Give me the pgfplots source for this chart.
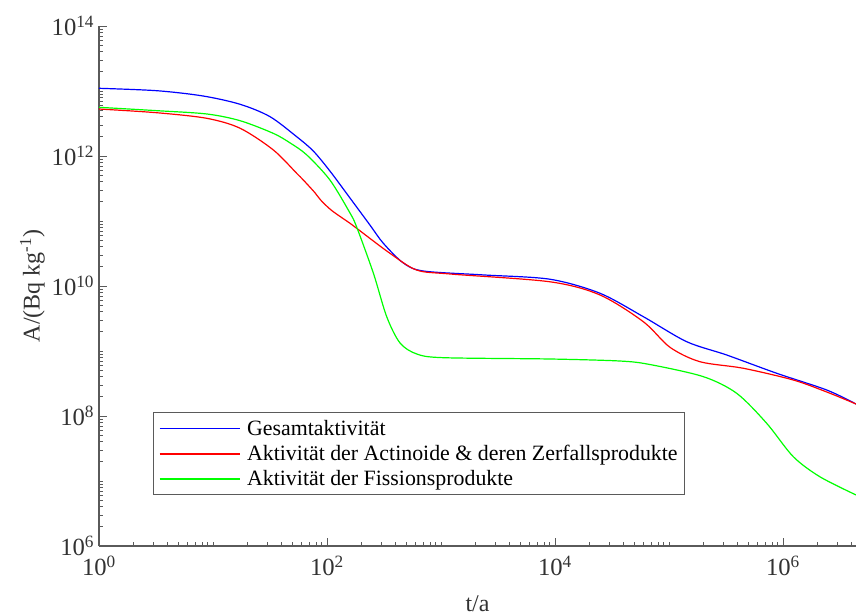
\documentclass[border=0pt]{standalone}
\usepackage{fontspec}
\setmainfont{Liberation Serif}
\usepackage{pgfplots}
\pgfplotsset{compat=1.18}
\definecolor{axgray}{RGB}{90,90,90}
\definecolor{txtgray}{RGB}{50,50,50}
\definecolor{cblue}{RGB}{0,0,255}
\definecolor{cred}{RGB}{255,0,0}
\definecolor{cgreen}{RGB}{0,255,0}
\begin{document}
\begin{tikzpicture}
\begin{loglogaxis}[
  name=ax,
  scale only axis,
  width=567.75pt, height=390pt,
  xmin=1, xmax=4.37e6, ymin=1e6, ymax=1e14,
  axis x line*=bottom, axis y line*=left,
  axis line style={-, draw=axgray, line width=0.8pt},
  tick align=inside,
  major tick length=6pt, minor tick length=3pt,
  tick style={draw=axgray, line width=0.6pt},
  xtick={1,100,10000,1000000},
  xticklabels={10\textsuperscript{0},10\textsuperscript{2},10\textsuperscript{4},10\textsuperscript{6}},
  ytick={1e6,1e8,1e10,1e12,1e14},
  yticklabels={10\textsuperscript{6},10\textsuperscript{8},10\textsuperscript{10},10\textsuperscript{12},10\textsuperscript{14}},
  minor xtick={2,3,4,5,6,7,8,9,10,20,30,40,50,60,70,80,90,200,300,400,500,600,700,800,900,1000,2000,3000,4000,5000,6000,7000,8000,9000,20000,30000,40000,50000,60000,70000,80000,90000,100000,200000,300000,400000,500000,600000,700000,800000,900000,2000000,3000000,4000000},
  minor ytick={2e6,3e6,4e6,5e6,6e6,7e6,8e6,9e6,1e7,2e7,3e7,4e7,5e7,6e7,7e7,8e7,9e7,2e8,3e8,4e8,5e8,6e8,7e8,8e8,9e8,1e9,2e9,3e9,4e9,5e9,6e9,7e9,8e9,9e9,2e10,3e10,4e10,5e10,6e10,7e10,8e10,9e10,1e11,2e11,3e11,4e11,5e11,6e11,7e11,8e11,9e11,2e12,3e12,4e12,5e12,6e12,7e12,8e12,9e12,1e13,2e13,3e13,4e13,5e13,6e13,7e13,8e13,9e13},
  tick label style={font=\fontsize{18.5}{21}\selectfont, text=txtgray},
  xticklabel style={yshift=-4pt},
  xlabel={t/a},
  ylabel={A/(Bq kg\textsuperscript{-1})},
  every axis x label/.style={at={(axis description cs:0.5,0)}, anchor=base, yshift=-49pt,
    font=\fontsize{18}{21}\selectfont, text=txtgray},
  every axis y label/.style={at={(axis description cs:-0.0713,0.5)}, rotate=90, anchor=south, inner sep=0pt,
    font=\fontsize{18}{21}\selectfont, text=txtgray},
  legend style={at={(0.0713,0.2577)}, anchor=north west, draw=axgray, line width=0.8pt, text=black,
    font=\fontsize{16.4}{19}\selectfont, inner xsep=4pt, inner ysep=4.5pt, row sep=4pt,
    nodes={inner sep=1pt}, /tikz/every odd column/.append style={column sep=4pt}},
  legend cell align=left,
  legend image code/.code={\draw[#1] (0pt,0pt) -- (60pt,0pt);},
  clip=true,
]
\addplot[draw=cblue, line width=0.9pt, smooth, tension=0.5, forget plot] coordinates {
(1,1.10e13) (3.21,1.01e13) (8.17,8.38e12) (17.3,6.24e12) (31.6,4.03e12)
(54.2,1.98e12) (75.9,1.19e12) (106,5.88e11) (159,2.26e11) (238,8.67e10)
(312,4.54e10) (467,2.26e10) (700,1.70e10) (2350,1.48e10) (9040,1.27e10)
(24800,7.73e9) (59600,3.37e9) (1.43e5,1.39e9) (3.21e5,8.67e8) (8.81e5,4.54e8)
(2.42e6,2.51e8) (4.37e6,1.53e8)
};
\addplot[draw=cred, line width=0.9pt, smooth, tension=0.5, forget plot] coordinates {
(1,5.28e12) (3.21,4.63e12) (8.81,3.80e12) (17.3,2.67e12) (33.8,1.24e12)
(54.2,5.42e11) (61.9,4.28e11) (78,2.75e11) (88,2.10e11) (110,1.45e11) (159,9.23e10) (182,7.73e10)
(357,3.18e10) (612,1.76e10) (1200,1.53e10) (9040,1.16e10) (24800,7.28e9)
(59600,2.82e9) (1.02e5,1.14e9) (1.87e5,6.84e8) (4.49e5,5.42e8) (1.23e6,3.58e8)
(2.42e6,2.34e8) (4.37e6,1.53e8)
};
\addplot[draw=cgreen, line width=0.9pt, smooth, tension=0.5, forget plot] coordinates {
(1,5.61e12) (3.21,4.98e12) (8.81,4.43e12) (17.3,3.49e12) (33.8,2.23e12)
(47.4,1.59e12) (66.4,1.04e12) (106,4.28e11) (159,1.33e11) (182,8.09e10)
(255,1.58e10) (334,3.37e9) (437,1.33e9) (612,9.0e8) (1047,7.89e8)
(9040,7.53e8) (37200,7.01e8) (68100,6.19e8) (2.0e5,4.03e8) (3.93e5,2.23e8)
(7.19e5,7.73e7) (1.23e6,2.37e7) (2.11e6,1.16e7) (4.37e6,6.10e6)
};
\addlegendimage{color=cblue, draw=cblue, line width=1.2pt}
\addlegendentry{Gesamtaktivität}
\addlegendimage{color=cred, draw=cred, line width=1.2pt}
\addlegendentry{Aktivität der Actinoide \& deren Zerfallsprodukte}
\addlegendimage{color=cgreen, draw=cgreen, line width=1.2pt}
\addlegendentry{Aktivität der Fissionsprodukte}
\end{loglogaxis}
\pgfresetboundingbox
\path ([xshift=-74.25pt,yshift=-52.5pt]ax.south west) rectangle ([yshift=19.5pt]ax.north east);
\end{tikzpicture}
\end{document}
